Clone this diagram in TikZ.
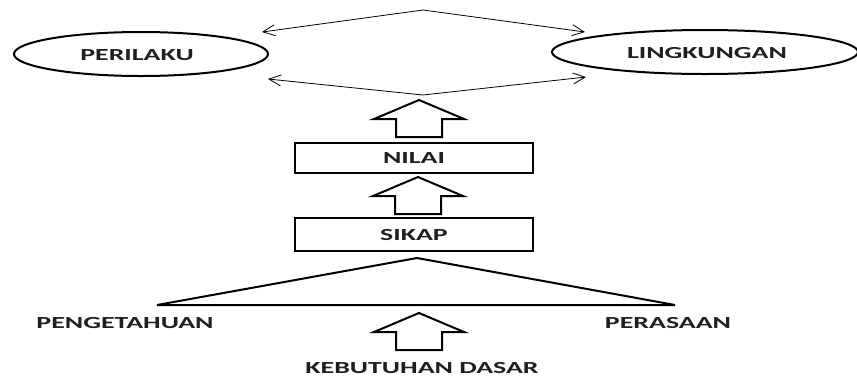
\documentclass[tikz,border=0pt]{standalone}
\usepackage{fontspec}
\setmainfont[FakeStretch=1.65]{Carlito}
\usetikzlibrary{shapes.geometric,arrows.meta}
\begin{document}
\begin{tikzpicture}[x=1pt,y=-1pt,
  lbl/.style={font=\fontsize{16.9}{20}\selectfont\bfseries, text=black!88, inner sep=0pt},
  oval/.style={ellipse, draw, line width=2pt, inner sep=0pt, minimum height=44pt},
  boxnode/.style={rectangle, draw, line width=2.2pt, inner sep=0pt, minimum width=238pt},
  thinarr/.style={line width=0.8pt, {Straight Barb[length=12pt,width=11pt]}-{Straight Barb[length=12pt,width=11pt]}},
  pics/uparrow/.style={code={\draw[line width=2pt, line join=miter] (0,0) -- (-45,19) -- (-23,19) -- (-23,37) -- (23,37) -- (23,19) -- (45,19) -- cycle;}}
]
\useasboundingbox (0,0) rectangle (857,376);
% ellipses
\node[oval, minimum width=254pt] (per) at (141,54) {};
\node[lbl] (perT) at (137,55) {PERILAKU};
\node[oval, minimum width=306pt] (lin) at (705,52) {};
\node[lbl] (linT) at (707,53) {LINGKUNGAN};
% thin double arrows
\coordinate (tapex) at (423,10);
\coordinate (bapex) at (423,95);
\coordinate (tl) at (262,32);
\coordinate (tr) at (585,32);
\coordinate (bl) at (268,79);
\coordinate (br) at (586,77);
\draw[thinarr] (tl) -- (tapex) -- (tr);
\draw[thinarr] (bl) -- (bapex) -- (br);
% block arrows
\pic at (419,100) {uparrow};
\pic at (418,177) {uparrow};
\pic at (419,313) {uparrow};
% boxes
\node[boxnode, minimum height=30pt] (nilai) at (414,158) {};
\node[lbl] (nilaiT) at (414,158.5) {NILAI};
\node[boxnode, minimum height=33pt] (sikap) at (414,234.5) {};
\node[lbl] (sikapT) at (414,235) {SIKAP};
% triangle
\coordinate (triA) at (417,258);
\coordinate (triL) at (157,305);
\coordinate (triR) at (675,305);
\draw[line width=2pt, line join=miter] (triA) -- (triL) -- (triR) -- cycle;
% labels
\node[lbl] (peng) at (125,323) {PENGETAHUAN};
\node[lbl] (pera) at (668,323) {PERASAAN};
\node[lbl] (keb) at (422,368) {KEBUTUHAN DASAR};
\end{tikzpicture}
\end{document}
